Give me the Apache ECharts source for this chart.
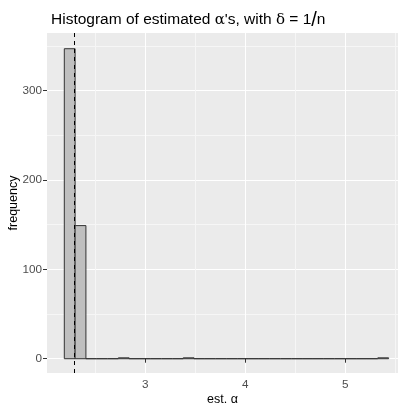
<!DOCTYPE html>
<html>
<head>
<meta charset="utf-8">
<script src="https://cdn.jsdelivr.net/npm/echarts@6/dist/echarts.min.js"></script>
<style>html,body{margin:0;padding:0;background:#fff;}#c{width:398px;height:410px;}</style>
</head>
<body>
<div id="c"></div>
<script>
// histogram data
const binStart = 2.19;
const binWidth = 0.1081;
const counts = [347, 149, 0, 0, 0, 1, 0, 0, 0, 0, 0, 1, 0, 0, 0, 0, 0, 0, 0, 0, 0, 0, 0, 0, 0, 0, 0, 0, 0, 1];
const alphaLine = 2.29;
const xTicks = [3, 4, 5];
const xGrid = [2.5, 3, 3.5, 4, 4.5, 5, 5.5];
const yTicks = [0, 100, 200, 300];
const yGrid = [0, 50, 100, 150, 200, 250, 300, 350];

const binData = counts.map((c, i) => [binStart + i * binWidth, binStart + (i + 1) * binWidth, c]);

const FONT = 'Liberation Sans';
const chart = echarts.init(document.getElementById('c'), null, {renderer: 'canvas'});
const xMin = 2.017, xMax = 5.527, yMin = -16, yMax = 364.6;

chart.setOption({
  animation: false,
  backgroundColor: '#ffffff',
  title: {
    left: 46, top: 5,
    text: '{t|Histogram of estimated }{g|α}{t|\'s, with }{g|δ}{t| = 1}{s|/}{t|n}',
    textStyle: {
      fontWeight: 'normal',
      rich: {
        t: {fontFamily: FONT, fontSize: 15.5, color: '#000', fontWeight: 'normal'},
        g: {fontFamily: 'DejaVu Serif', fontSize: 15, color: '#000', fontWeight: 'normal'},
        s: {fontFamily: FONT, fontSize: 20, color: '#000', fontWeight: 'normal'}
      }
    }
  },
  grid: {left: 47, right: 0, top: 33, bottom: 37, containLabel: false, outerBoundsMode: 'none',
         show: true, backgroundColor: '#EBEBEB', borderWidth: 0},
  xAxis: [
    {
      type: 'value', min: xMin, max: xMax, position: 'bottom',
      axisLine: {show: false}, axisLabel: {show: false},
      axisTick: {show: false, customValues: xGrid},
      splitLine: {show: true, lineStyle: {color: ['#F6F6F6', '#FFFFFF'], width: 1}}
    },
    {
      type: 'value', min: xMin, max: xMax, position: 'bottom',
      axisLine: {show: false},
      axisTick: {show: true, customValues: xTicks, length: 4, lineStyle: {color: '#333333'}},
      axisLabel: {show: true, customValues: xTicks, margin: 6, color: '#4D4D4D', fontFamily: FONT, fontSize: 11.7},
      splitLine: {show: false},
      name: 'est. α', nameLocation: 'middle', nameGap: 20, nameMoveOverlap: false,
      nameTextStyle: {color: '#000', fontFamily: FONT, fontSize: 12.5}
    }
  ],
  yAxis: [
    {
      type: 'value', min: yMin, max: yMax,
      axisLine: {show: false}, axisLabel: {show: false},
      axisTick: {show: false, customValues: yGrid},
      splitLine: {show: true, lineStyle: {color: ['#FFFFFF', '#F6F6F6'], width: 1}}
    },
    {
      type: 'value', min: yMin, max: yMax, position: 'left',
      axisLine: {show: false},
      axisTick: {show: true, customValues: yTicks, length: 4, lineStyle: {color: '#333333'}},
      axisLabel: {show: true, customValues: yTicks, margin: 5, color: '#4D4D4D', fontFamily: FONT, fontSize: 11.7},
      splitLine: {show: false},
      name: 'frequency', nameLocation: 'middle', nameGap: 27, nameMoveOverlap: false,
      nameTextStyle: {color: '#000', fontFamily: FONT, fontSize: 12.5}
    }
  ],
  series: [{
    type: 'custom',
    xAxisIndex: 0, yAxisIndex: 0,
    data: binData,
    encode: {x: [0, 1], y: 2},
    clip: true,
    renderItem: function (params, api) {
      const p0 = api.coord([api.value(0), api.value(2)]);
      const p1 = api.coord([api.value(1), 0]);
      return {
        type: 'rect',
        shape: {x: p0[0], y: p0[1], width: p1[0] - p0[0], height: p1[1] - p0[1]},
        style: {fill: '#BFBFBF', stroke: '#333333', lineWidth: 1}
      };
    },
    markLine: {
      silent: true, symbol: 'none', label: {show: false},
      lineStyle: {color: '#000000', type: [4, 4], width: 1},
      data: [{xAxis: alphaLine}]
    }
  }]
});
</script>
</body>
</html>
